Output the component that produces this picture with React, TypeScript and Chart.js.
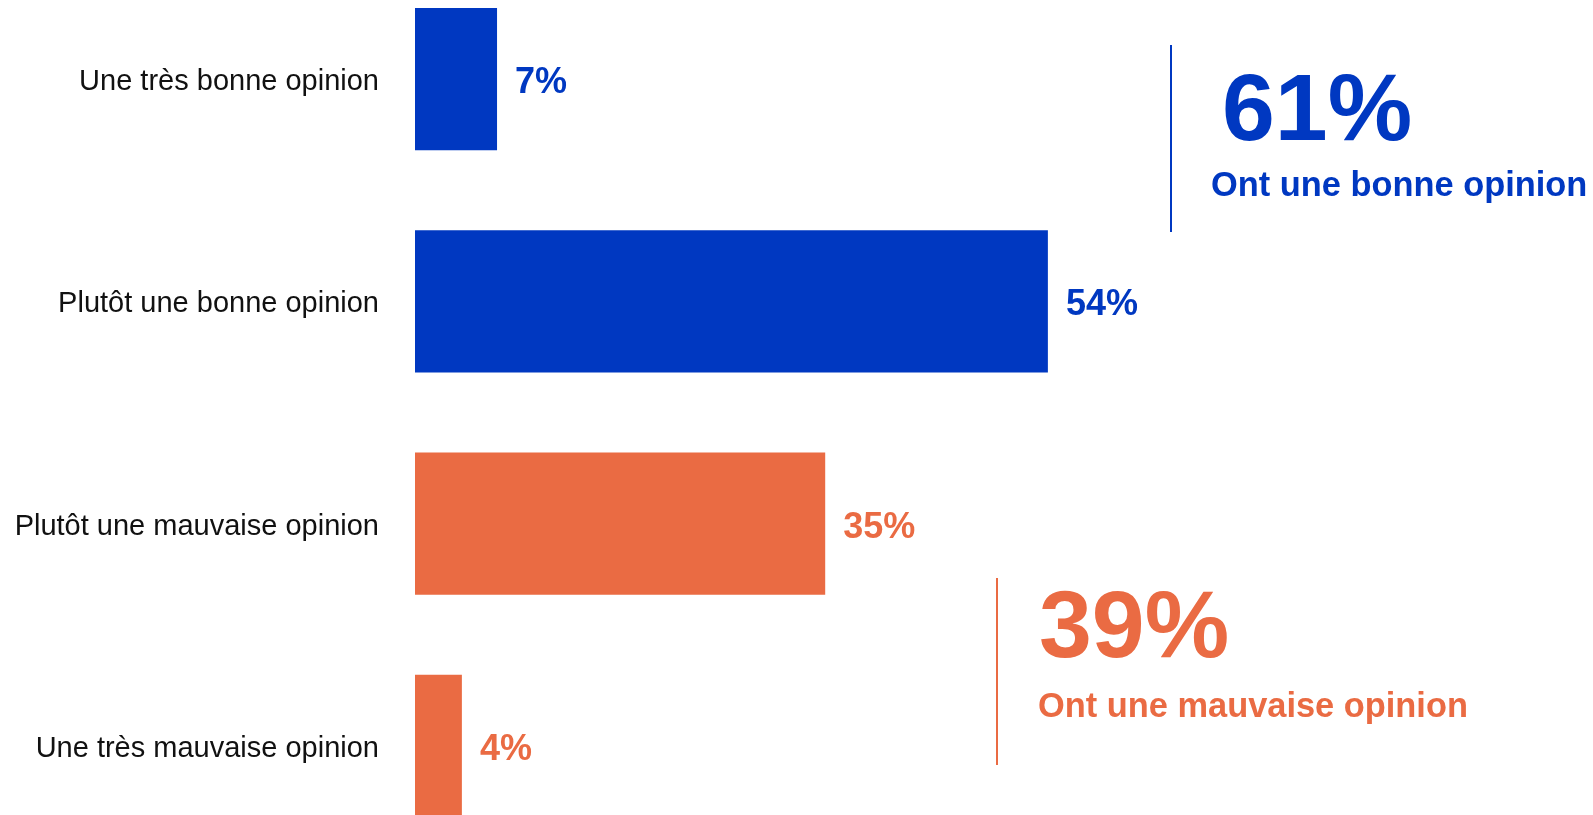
import React, { useEffect, useRef } from "react";
import { Chart, registerables } from "chart.js";

Chart.register(...registerables);

const categories = [
  "Une très bonne opinion",
  "Plutôt une bonne opinion",
  "Plutôt une mauvaise opinion",
  "Une très mauvaise opinion",
];
const values = [7, 54, 35, 4];
const valueLabels = ["7%", "54%", "35%", "4%"];
const BLUE = "#0038C1";
const ORANGE = "#EA6B43";
const barColors = [BLUE, BLUE, ORANGE, ORANGE];

const summaryValues = ["61%", "39%"];
const summaryTexts = ["Ont une bonne opinion", "Ont une mauvaise opinion"];
const summaryColors = [BLUE, ORANGE];
// anchors in data units: [lineX, lineYStart, lineYEnd, bigBaselineY, subBaselineY]
const summaryAnchors = [
  [64.5, -0.153, 0.688, 0.274, 0.527],
  [49.7, 2.245, 3.086, 2.60, 2.87],
];
const summaryBigIndent = [51, 42];
const summarySubIndent = [40, 41];

const FONT = "'Liberation Sans', Arial, Helvetica, sans-serif";
const CANVAS_W = 1593;
const CANVAS_H = 889;

const labelPlugin = {
  id: "customLabels",
  afterDatasetsDraw(chart: any) {
    const ctx = chart.ctx;
    const meta = chart.getDatasetMeta(0);
    ctx.save();
    ctx.font = `bold 36px ${FONT}`;
    ctx.textAlign = "left";
    ctx.textBaseline = "middle";
    meta.data.forEach((bar: any, i: number) => {
      ctx.fillStyle = barColors[i];
      ctx.fillText(valueLabels[i], bar.x + 18, bar.y + 4);
    });
    const xs = chart.scales.x;
    const ys = chart.scales.y;
    summaryAnchors.forEach((a, i) => {
      const lx = Math.round(xs.getPixelForValue(a[0]));
      ctx.strokeStyle = summaryColors[i];
      ctx.lineWidth = 2;
      ctx.beginPath();
      ctx.moveTo(lx, ys.getPixelForValue(a[1]));
      ctx.lineTo(lx, ys.getPixelForValue(a[2]));
      ctx.stroke();
      ctx.fillStyle = summaryColors[i];
      ctx.textBaseline = "alphabetic";
      ctx.font = `bold 95px ${FONT}`;
      ctx.fillText(summaryValues[i], lx + summaryBigIndent[i], ys.getPixelForValue(a[3]));
      ctx.font = `bold 34.4px ${FONT}`;
      ctx.fillText(summaryTexts[i], lx + summarySubIndent[i], ys.getPixelForValue(a[4]));
    });
    ctx.restore();
  },
};

export default function App() {
  const ref = useRef<HTMLCanvasElement>(null);
  useEffect(() => {
    if (!ref.current) return;
    const chart = new Chart(ref.current, {
      type: "bar",
      data: {
        labels: categories,
        datasets: [
          {
            data: values,
            backgroundColor: barColors,
            borderWidth: 0,
            categoryPercentage: 1,
            barPercentage: 0.64,
          },
        ],
      },
      options: {
        indexAxis: "y",
        animation: false,
        responsive: false,
        devicePixelRatio: 1,
        layout: { padding: { top: 0, bottom: 0, left: 0, right: 6 } },
        plugins: {
          legend: { display: false },
          tooltip: { enabled: false },
          title: { display: false },
        },
        scales: {
          x: { display: false, min: 0, max: 100 },
          y: {
            grid: { display: false, drawTicks: false },
            border: { display: false },
            ticks: {
              padding: 36,
              labelOffset: 3,
              color: "#111",
              font: { family: FONT, size: 29 },
            },
            afterFit: (scale: any) => {
              scale.width = 415;
              scale.paddingTop = 0;
              scale.paddingBottom = 0;
            },
          },
        },
      },
      plugins: [labelPlugin],
    });
    return () => chart.destroy();
  }, []);
  return (
    <div style={{ position: "fixed", left: 0, top: 0, width: 1593, height: 815, overflow: "hidden", background: "#fff" }}>
      <canvas
        ref={ref}
        width={CANVAS_W}
        height={CANVAS_H}
        style={{ position: "absolute", left: 0, top: -32, width: CANVAS_W, height: CANVAS_H, display: "block" }}
      />
    </div>
  );
}
